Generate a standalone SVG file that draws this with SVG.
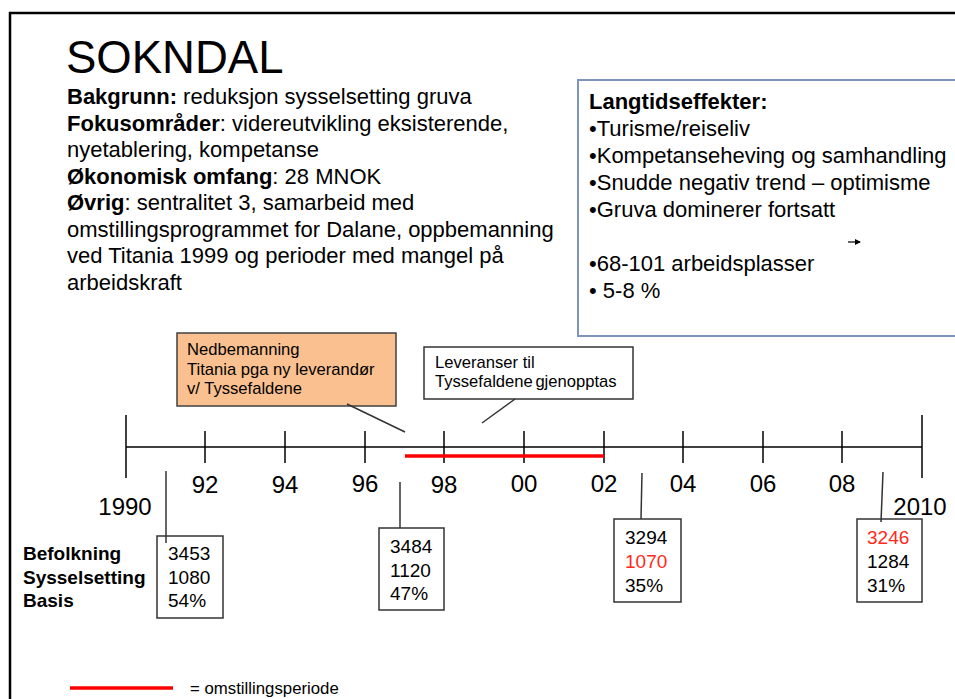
<svg xmlns="http://www.w3.org/2000/svg" width="955" height="699" viewBox="0 0 955 699">
<style>
text{font-family:"Liberation Sans",Arial,sans-serif;fill:#000}
.b{font-weight:bold}
.body{font-size:22px}
.yr{font-size:24px}
.val{font-size:19px}
.call{font-size:16.6px}
.red{fill:#ff2a1a}
.ax{stroke:#000;stroke-width:1.5;fill:none}
.conn{stroke:#333;stroke-width:1.5;fill:none}
.box{fill:#fff;stroke:#333;stroke-width:1.5}
</style>
<defs>
<marker id="ah" markerWidth="6" markerHeight="6" refX="5" refY="3" orient="auto" markerUnits="userSpaceOnUse"><path d="M0,0 L6,3 L0,6 Z" fill="#000"/></marker>
</defs>
<rect width="955" height="699" fill="#fff"/>
<rect x="10" y="13" width="960" height="700" fill="none" stroke="#000" stroke-width="2.5"/>

<g id="title"><text x="66" y="73" style="font-size:45.5px">SOKNDAL</text></g>

<g id="info" class="body">
<text x="67" y="104" class="body"><tspan class="b">Bakgrunn:</tspan> reduksjon sysselsetting gruva</text>
<text x="67" y="130.5" class="body"><tspan class="b">Fokusområder</tspan>: videreutvikling eksisterende,</text>
<text x="67" y="157" class="body">nyetablering, kompetanse</text>
<text x="67" y="183.5" class="body"><tspan class="b">Økonomisk omfang</tspan>: 28 MNOK</text>
<text x="67" y="210" class="body"><tspan class="b">Øvrig</tspan>: sentralitet 3, samarbeid med</text>
<text x="67" y="236.5" class="body">omstillingsprogrammet for Dalane, oppbemanning</text>
<text x="67" y="263" class="body">ved Titania 1999 og perioder med mangel på</text>
<text x="67" y="289.5" class="body">arbeidskraft</text>
</g>

<g id="langtid">
<rect x="578" y="80" width="400" height="256" fill="#fff" stroke="#7d95bd" stroke-width="2"/>
<text x="589" y="109" class="body b">Langtidseffekter:</text>
<text x="589" y="136" class="body">•Turisme/reiseliv</text>
<text x="589" y="163" class="body">•Kompetanseheving og samhandling</text>
<text x="589" y="190" class="body">•Snudde negativ trend – optimisme</text>
<text x="589" y="217" class="body">•Gruva dominerer fortsatt</text>
<text x="589" y="271" class="body">•68-101 arbeidsplasser</text>
<text x="589" y="298" class="body">• 5-8 %</text>
<line x1="848" y1="242" x2="860" y2="242" stroke="#000" stroke-width="1.2" marker-end="url(#ah)"/>
</g>

<g id="timeline">
<line class="ax" x1="126" y1="447" x2="922" y2="447"/>
<line class="ax" x1="126" y1="415" x2="126" y2="478"/>
<line class="ax" x1="922" y1="415" x2="922" y2="478"/>
<line class="ax" x1="205" y1="431" x2="205" y2="463"/>
<line class="ax" x1="285" y1="431" x2="285" y2="463"/>
<line class="ax" x1="365" y1="431" x2="365" y2="463"/>
<line class="ax" x1="444" y1="431" x2="444" y2="463"/>
<line class="ax" x1="524" y1="431" x2="524" y2="463"/>
<line class="ax" x1="604" y1="431" x2="604" y2="463"/>
<line class="ax" x1="683" y1="431" x2="683" y2="463"/>
<line class="ax" x1="763" y1="431" x2="763" y2="463"/>
<line class="ax" x1="842" y1="431" x2="842" y2="463"/>
<line x1="405" y1="456" x2="604" y2="456" stroke="#f00" stroke-width="3.5"/>
<g class="yr" text-anchor="middle">
<text x="125" y="515" class="yr">1990</text>
<text x="205" y="493" class="yr">92</text>
<text x="285" y="493" class="yr">94</text>
<text x="365" y="492" class="yr">96</text>
<text x="444" y="493" class="yr">98</text>
<text x="524" y="492" class="yr">00</text>
<text x="604" y="492" class="yr">02</text>
<text x="683" y="492" class="yr">04</text>
<text x="763" y="492" class="yr">06</text>
<text x="842" y="492" class="yr">08</text>
<text x="920" y="515" class="yr">2010</text>
</g>
</g>

<g id="rowlabels">
<text x="23" y="560" class="val b">Befolkning</text>
<text x="23" y="584" class="val b">Sysselsetting</text>
<text x="23" y="607" class="val b">Basis</text>
</g>

<g id="box1991">
<rect class="box" x="157" y="536" width="66" height="82"/>
<text x="168" y="560" class="val">3453</text>
<text x="168" y="584" class="val">1080</text>
<text x="168" y="607" class="val">54%</text>
</g>
<g id="box1997">
<rect class="box" x="379" y="528" width="65" height="82"/>
<text x="390" y="553" class="val">3484</text>
<text x="390" y="577" class="val">1120</text>
<text x="390" y="600" class="val">47%</text>
</g>
<g id="box2003">
<rect class="box" x="614" y="519" width="67" height="83"/>
<text x="625" y="544" class="val">3294</text>
<text x="625" y="568" class="val red">1070</text>
<text x="625" y="592" class="val">35%</text>
</g>
<g id="box2009">
<rect class="box" x="857" y="519" width="65" height="83"/>
<text x="867" y="544" class="val red">3246</text>
<text x="867" y="568" class="val">1284</text>
<text x="867" y="592" class="val">31%</text>
</g>

<g id="callout-nedbemanning">
<rect x="177" y="333" width="219" height="73" fill="#fac08f" stroke="#404040" stroke-width="1.5"/>
<text x="187" y="355" class="call">Nedbemanning</text>
<text x="187" y="375" class="call">Titania pga ny leverandør</text>
<text x="187" y="394" class="call">v/ Tyssefaldene</text>
</g>
<g id="callout-leveranser">
<rect x="424" y="347" width="209" height="52" fill="#fff" stroke="#333" stroke-width="1.5"/>
<text x="435" y="368" class="call">Leveranser til</text>
<text x="435" y="387" class="call" word-spacing="-2">Tyssefaldene gjenopptas</text>
</g>

<g id="connectors">
<line class="conn" x1="347" y1="404" x2="405" y2="432"/>
<line class="conn" x1="515" y1="399" x2="482" y2="423"/>
<line class="conn" x1="166" y1="471" x2="166" y2="543"/>
<line class="conn" x1="400" y1="482" x2="400" y2="528"/>
<line class="conn" x1="642" y1="473" x2="641" y2="519"/>
<line class="conn" x1="883" y1="472" x2="881" y2="522"/>
</g>

<g id="legend">
<line x1="70" y1="688" x2="173" y2="688" stroke="#f00" stroke-width="3.5"/>
<text x="190" y="694" style="font-size:16.8px">= omstillingsperiode</text>
</g>
</svg>
